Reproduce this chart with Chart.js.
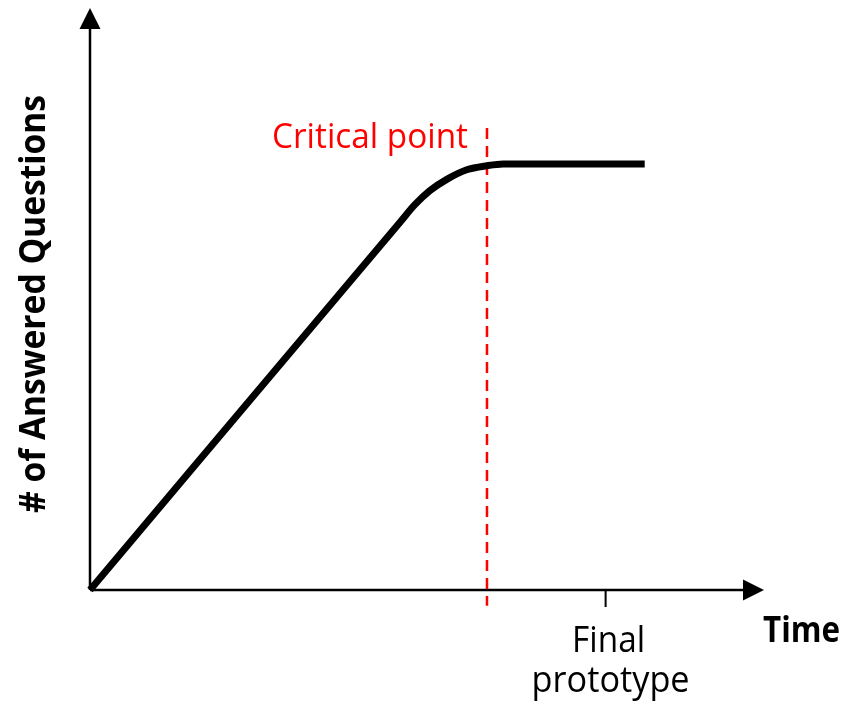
<!DOCTYPE html>
<html>
<head>
<meta charset="utf-8">
<title>Answered questions over time</title>
<script src="https://cdn.jsdelivr.net/npm/chart.js@4.4.1/dist/chart.umd.min.js"></script>
<style>
  html, body { margin: 0; padding: 0; background: #ffffff; }
  #wrap { width: 846px; height: 704px; position: relative; }
</style>
</head>
<body>
<div id="wrap"><canvas id="growthChart"></canvas></div>
<script>
// 数据：时间 (0-100) 与已回答问题数 (0-100)，数值读自原图
const timeX = [0, 46.0, 48.2, 50.4, 53.0, 55.9, 58.9, 61.3, 82.3];
const answered = [0, 63.2, 66.2, 68.6, 70.6, 72.2, 72.9, 73.2, 73.2];

// 关键点虚线 & 最终原型刻度
const criticalX = 58.9;
const criticalSpan = [79.4, -2.7];
const finalX = 76.5;
const finalTick = [0, -2.9];

// 文本
const yTitle = '# of Answered Questions';
const xTitle = 'Time';
const criticalLabel = 'Critical point';
const finalLabel = ['Final', 'prototype'];

const FONT = '"Open Sans", "Noto Sans", sans-serif';

// 按目标宽度水平缩放文字（原图字体比较窄）
const fillTextFit = (ctx, text, x, y, width) => {
  const w = ctx.measureText(text).width;
  const k = width / w;
  ctx.save();
  ctx.translate(x, y);
  ctx.scale(k, 1);
  ctx.fillText(text, 0, 0);
  ctx.restore();
};

const axesPlugin = {
  id: 'arrowAxes',
  beforeDatasetsDraw(chart) {
    const { ctx, chartArea: a } = chart;
    const head = 21, half = 10.5;
    ctx.save();
    ctx.strokeStyle = '#000';
    ctx.fillStyle = '#000';
    ctx.lineWidth = 2.5;
    // y 轴
    ctx.beginPath();
    ctx.moveTo(a.left, a.bottom);
    ctx.lineTo(a.left, a.top + head);
    ctx.stroke();
    ctx.beginPath();
    ctx.moveTo(a.left, a.top);
    ctx.lineTo(a.left - half, a.top + head);
    ctx.lineTo(a.left + half, a.top + head);
    ctx.closePath();
    ctx.fill();
    // x 轴
    ctx.beginPath();
    ctx.moveTo(a.left, a.bottom);
    ctx.lineTo(a.right - head, a.bottom);
    ctx.stroke();
    ctx.beginPath();
    ctx.moveTo(a.right, a.bottom);
    ctx.lineTo(a.right - head, a.bottom - half);
    ctx.lineTo(a.right - head, a.bottom + half);
    ctx.closePath();
    ctx.fill();
    ctx.restore();
  },
  afterDraw(chart) {
    const { ctx, chartArea: a, scales } = chart;
    const x = scales.x, y = scales.y;
    ctx.save();
    ctx.textBaseline = 'alphabetic';

    // Critical point
    ctx.fillStyle = '#ff0000';
    ctx.font = `35px ${FONT}`;
    ctx.textAlign = 'left';
    fillTextFit(ctx, criticalLabel, x.getPixelForValue(criticalX) - 215, y.getPixelForValue(criticalSpan[0]) + 20, 196);

    // Final prototype
    ctx.fillStyle = '#000';
    ctx.font = `37px ${FONT}`;
    ctx.textAlign = 'center';
    const fx = x.getPixelForValue(finalX);
    fillTextFit(ctx, finalLabel[0], fx + 3, a.bottom + 62, 73);
    fillTextFit(ctx, finalLabel[1], fx + 5, a.bottom + 102, 158);

    // Time
    ctx.font = `bold 35px ${FONT}`;
    ctx.textAlign = 'left';
    fillTextFit(ctx, xTitle, a.right - 1, a.bottom + 52, 77);

    // y 轴标题
    ctx.translate(45, 304);
    ctx.rotate(-Math.PI / 2);
    ctx.textAlign = 'center';
    fillTextFit(ctx, yTitle, 0, 0, 418);
    ctx.restore();
  }
};

new Chart(document.getElementById('growthChart').getContext('2d'), {
  type: 'line',
  data: {
    datasets: [
      {
        label: 'Answered',
        data: timeX.map((t, i) => ({ x: t, y: answered[i] })),
        borderColor: '#000000',
        borderWidth: 7,
        borderCapStyle: 'butt',
        borderJoinStyle: 'round',
        cubicInterpolationMode: 'monotone',
        pointRadius: 0,
        fill: false,
        clip: false
      },
      {
        label: 'Critical point',
        data: criticalSpan.map(v => ({ x: criticalX, y: v })),
        borderColor: '#ff0000',
        borderWidth: 2.5,
        borderDash: [11, 7],
        pointRadius: 0,
        fill: false,
        clip: false
      },
      {
        label: 'Final tick',
        data: finalTick.map(v => ({ x: finalX, y: v })),
        borderColor: '#000000',
        borderWidth: 2,
        pointRadius: 0,
        fill: false,
        clip: false
      }
    ]
  },
  options: {
    responsive: true,
    maintainAspectRatio: false,
    animation: false,
    events: [],
    layout: { padding: { left: 90, right: 82, top: 8, bottom: 114 } },
    plugins: {
      legend: { display: false },
      title: { display: false },
      tooltip: { enabled: false }
    },
    scales: {
      x: { type: 'linear', min: 0, max: 100, display: false },
      y: { type: 'linear', min: 0, max: 100, display: false }
    }
  },
  plugins: [axesPlugin]
});
</script>
</body>
</html>
